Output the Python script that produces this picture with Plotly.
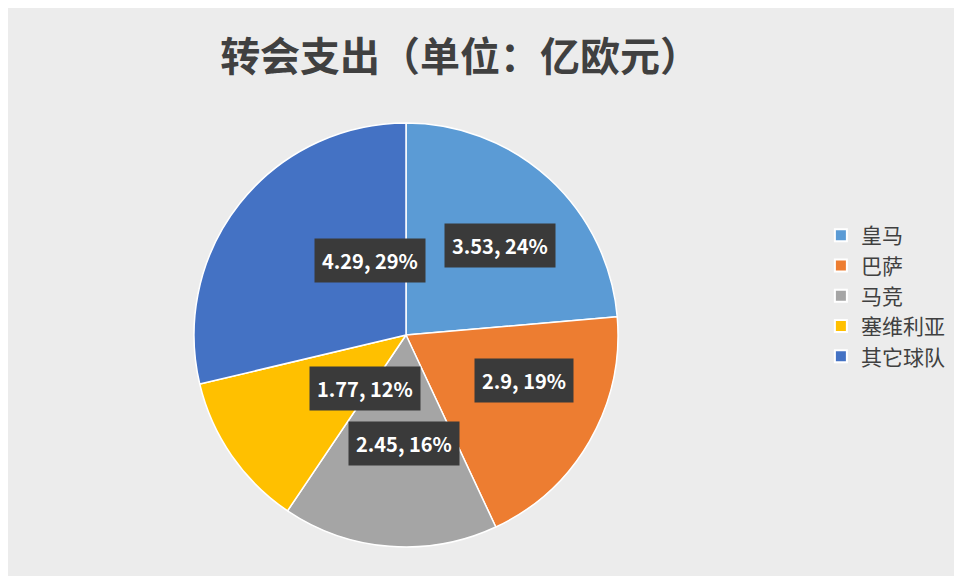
import math
import plotly.graph_objects as go

teams = ['皇马', '巴萨', '马竞', '塞维利亚', '其它球队']
spend = [3.53, 2.9, 2.45, 1.77, 4.29]
colors = ['#5b9bd5', '#ed7d31', '#a5a5a5', '#ffc000', '#4472c4']

W, H = 962, 576
cx, cy, R = 398, 327, 212  # pixel centre / radius of the pie

fig = go.Figure(go.Pie(
    labels=teams, values=spend, sort=False, direction='clockwise', rotation=0,
    marker=dict(colors=colors, line=dict(color='white', width=1.5)),
    textinfo='none', hoverinfo='label+value+percent',
    domain=dict(x=[(cx - R) / W, (cx + R) / W], y=[(H - cy - R) / H, (H - cy + R) / H]),
))

# dark label boxes placed at the middle angle of each slice
total = sum(spend)
acc = 0
for v in spend:
    mid = (acc + v / 2) / total * 2 * math.pi
    acc += v
    r = 0.6 * R
    px = cx + 8 + r * math.sin(mid)
    py = cy + 4 - r * math.cos(mid)
    fig.add_annotation(
        x=px / W, y=1 - py / H, xref='paper', yref='paper', showarrow=False,
        text=f'<b>{v:g}, {round(v / total * 100):.0f}%</b>',
        font=dict(color='white', size=20, family='Noto Sans CJK SC'),
        bgcolor='#3a3a3a', borderpad=7,
    )

fig.update_layout(
    width=W, height=H, margin=dict(l=0, r=0, t=0, b=0),
    paper_bgcolor='#ececec',
    title=dict(text='<b>转会支出（单位：亿欧元）</b>', x=0.47, y=0.915, xanchor='center', yanchor='middle',
               font=dict(size=40, color='#404040', family='Noto Sans CJK SC')),
    legend=dict(x=0.845, y=0.5, xanchor='left', yanchor='middle', bgcolor='rgba(0,0,0,0)',
                font=dict(size=21, color='#404040', family='Noto Sans CJK SC'),
                itemsizing='constant'),
)
fig.write_html('out.html')
